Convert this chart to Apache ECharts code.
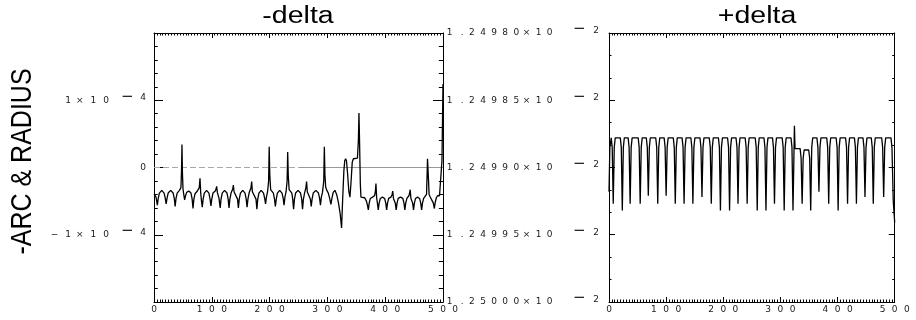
<!DOCTYPE html>
<html>
<head>
<meta charset="utf-8">
<style>
  html, body { margin: 0; padding: 0; background: #fff; }
  #chart { width: 916px; height: 320px; }
</style>
<script src="https://cdn.jsdelivr.net/npm/echarts@6/dist/echarts.min.js"></script>
</head>
<body>
<div id="chart"></div>
<script>
// Panel titles and the shared vertical axis name
const panelTitles = ['-delta', '+delta'];
const sideName = '-ARC & RADIUS';

// -delta: [step, value in units of 1e-4]
const minusDelta = [
  [0,-0.39],[3.5,-0.44],[5.8,-0.56],[7.3,-0.46],[9.3,-0.38],[13.4,-0.34],[17.5,-0.38],[19.5,-0.46],[21,-0.54],
  [22.5,-0.46],[24.5,-0.38],[28.8,-0.34],[33.1,-0.38],[35.1,-0.46],[36.6,-0.58],
  [38.1,-0.46],[40.1,-0.38],[44,-0.34],[46.6,-0.30],[47.6,-0.05],[48.4,0.34],[49.2,-0.08],[50.2,-0.32],[51.8,-0.42],[53,-0.48],
  [54.5,-0.42],[56.5,-0.37],[60.2,-0.35],[64,-0.38],[66,-0.47],[67.5,-0.61],
  [69,-0.47],[71,-0.39],[75,-0.35],[78.3,-0.30],[79.6,-0.16],[80.8,-0.38],[82.2,-0.50],[83.5,-0.59],
  [85,-0.47],[87,-0.38],[91,-0.34],[95,-0.38],[97,-0.47],[98.5,-0.57],
  [100,-0.47],[102,-0.38],[106,-0.35],[107.4,-0.32],[108.4,-0.28],[109.6,-0.37],[112.5,-0.46],[114.5,-0.60],
  [116,-0.47],[118,-0.38],[122,-0.34],[126.3,-0.38],[128.3,-0.47],[129.8,-0.60],
  [131.3,-0.47],[133.3,-0.38],[136.2,-0.32],[137.3,-0.26],[138.5,-0.36],[141,-0.37],[144.5,-0.47],[146,-0.60],
  [147.5,-0.47],[149.5,-0.38],[153.5,-0.34],[157.5,-0.38],[159.5,-0.47],[161,-0.59],
  [162.5,-0.47],[164.5,-0.38],[167.8,-0.30],[169,-0.21],[170.2,-0.36],[173,-0.37],[176.5,-0.47],[178,-0.62],
  [179.5,-0.47],[181.5,-0.38],[185.5,-0.34],[189.5,-0.38],[191.5,-0.46],[193,-0.54],
  [194.5,-0.44],[196.5,-0.36],[198.3,-0.20],[199.3,0.31],[200.3,-0.10],[201.8,-0.33],[204,-0.35],[206.5,-0.38],[208.5,-0.47],[210,-0.58],
  [211.5,-0.47],[213.5,-0.38],[217.5,-0.34],[221.5,-0.38],[223.5,-0.46],[225,-0.56],
  [226.5,-0.44],[228.5,-0.36],[230.3,-0.20],[231.3,0.23],[232.3,-0.12],[233.8,-0.33],[236,-0.35],[238.5,-0.38],[240,-0.47],[241.5,-0.62],
  [243,-0.47],[245,-0.38],[249.2,-0.34],[253.5,-0.38],[255.5,-0.47],[257,-0.62],
  [258.5,-0.47],[260.5,-0.38],[262.8,-0.30],[264,-0.21],[265.2,-0.36],[268,-0.37],[270.5,-0.47],[272,-0.58],
  [273.5,-0.47],[275.5,-0.38],[280,-0.34],[284.5,-0.38],[286.5,-0.46],[288,-0.56],
  [289.5,-0.44],[291.5,-0.37],[293.7,-0.20],[294.7,0.31],[295.7,-0.10],[297,-0.29],[299,-0.34],[301.5,-0.38],[304,-0.46],[306,-0.55],
  [308,-0.45],[310,-0.37],[313,-0.34],[316,-0.40],[319,-0.52],[322,-0.68],[324.5,-0.90],[326.5,-0.45],[328.5,-0.05],[330,0.10],
  [331.5,0.13],[333,0.10],[335,-0.10],[337,-0.35],[339,-0.44],[341,-0.20],[343,0.08],[345,0.13],[348,0.13],[352,0.14],
  [353.6,0.40],[354.6,0.81],[355.6,0.40],[357,-0.25],[358,-0.44],
  [361,-0.44],[364.5,-0.45],[367.5,-0.50],[369.3,-0.56],[370.8,-0.63],[372.3,-0.53],[374.3,-0.46],[378,-0.44],[381.5,-0.42],[383,-0.36],[384,-0.24],[385.2,-0.45],[386.7,-0.54],[388,-0.63],
  [389.5,-0.53],[391.5,-0.46],[395.3,-0.44],[399,-0.46],[401,-0.53],[402.5,-0.63],
  [404,-0.53],[406,-0.46],[410,-0.44],[412,-0.40],[413,-0.35],[414.3,-0.46],[417.5,-0.53],[419,-0.63],
  [420.5,-0.53],[422.5,-0.46],[426.5,-0.44],[430.5,-0.46],[432.5,-0.53],[434,-0.63],
  [435.5,-0.53],[437.5,-0.46],[441,-0.42],[442.2,-0.38],[443.2,-0.33],[444.5,-0.46],[447.5,-0.53],[449,-0.63],
  [450.5,-0.53],[452.5,-0.46],[456,-0.44],[459.5,-0.46],[461.5,-0.53],[463,-0.63],
  [464.5,-0.53],[466.5,-0.46],[469.5,-0.44],[471.5,-0.40],[472.5,-0.10],[473.2,0.13],[474.2,-0.05],[476,-0.40],[477.5,-0.43],[480.5,-0.45],[483.3,-0.53],[485,-0.61],
  [486.5,-0.52],[488.5,-0.45],[490.5,-0.42],[494,-0.42],[496.5,-0.40],[498.2,0.10],[500,1.24]
];

// +delta: [step, value in units of 1e-2]
const plusDelta = [
  [0,1.249918],[1.5,1.249885],[3.9,1.249878],[5.6,1.249885],[7.4,1.249927],[9.2,1.249885],[10.9,1.249878],
  [19.8,1.249878],[21.5,1.249885],[23.3,1.249932],[25.1,1.249885],[26.8,1.249878],
  [33.5,1.249878],[35.2,1.249885],[37,1.249927],[38.8,1.249885],[40.5,1.249878],
  [51.1,1.249878],[52.8,1.249885],[54.6,1.249927],[56.4,1.249885],[58.1,1.249878],
  [65.3,1.249878],[67,1.249885],[68.8,1.249921],[70.6,1.249885],[72.3,1.249878],
  [81.8,1.249878],[83.5,1.249885],[85.3,1.249927],[87.1,1.249885],[88.8,1.249878],
  [96.5,1.249878],[98.2,1.249885],[100,1.249921],[101.8,1.249885],[103.5,1.249878],
  [112.5,1.249878],[114.2,1.249885],[116,1.249927],[117.8,1.249885],[119.5,1.249878],
  [127.9,1.249878],[129.6,1.249885],[131.4,1.249927],[133.2,1.249885],[134.9,1.249878],
  [143.3,1.249878],[145,1.249885],[146.8,1.249927],[148.6,1.249885],[150.3,1.249878],
  [159.2,1.249878],[160.9,1.249885],[162.7,1.249922],[164.5,1.249885],[166.2,1.249878],
  [175.5,1.249878],[177.2,1.249885],[179,1.249927],[180.8,1.249885],[182.5,1.249878],
  [191.5,1.249878],[193.2,1.249885],[195,1.249932],[196.8,1.249885],[198.5,1.249878],
  [207.5,1.249878],[209.2,1.249885],[211,1.249932],[212.8,1.249885],[214.5,1.249878],
  [222.3,1.249878],[224,1.249885],[225.8,1.249927],[227.6,1.249885],[229.3,1.249878],
  [238.3,1.249878],[240,1.249885],[241.8,1.249927],[243.6,1.249885],[245.3,1.249878],
  [255.9,1.249878],[257.6,1.249885],[259.4,1.249932],[261.2,1.249885],[262.9,1.249878],
  [271.2,1.249878],[272.9,1.249885],[274.7,1.249932],[276.5,1.249885],[278.2,1.249878],
  [286.1,1.249878],[287.8,1.249885],[289.6,1.249927],[291.4,1.249885],[293.1,1.249878],
  [303.1,1.249878],[304.8,1.249885],[306.6,1.249932],[308.4,1.249885],[310.1,1.249878],
  [318.5,1.249878],[320.2,1.249885],[322,1.249932],[323.3,1.2499],[324.5,1.249869],[325.6,1.249886],
  [334.5,1.249886],[336.2,1.249893],[338,1.249927],[339.8,1.249893],[341.5,1.249887],
  [349.5,1.249887],[351.2,1.249893],[353,1.249932],[354.8,1.249885],[356.5,1.249878],
  [363.9,1.249878],[365.6,1.249885],[367.4,1.249918],[369.2,1.249885],[370.9,1.249878],
  [381,1.249878],[382.7,1.249885],[384.5,1.249927],[386.3,1.249885],[388,1.249878],
  [397.5,1.249878],[399.2,1.249885],[401,1.249932],[402.8,1.249885],[404.5,1.249878],
  [414,1.249878],[415.7,1.249885],[417.5,1.249927],[419.3,1.249885],[421,1.249878],
  [429.5,1.249878],[431.2,1.249885],[433,1.249927],[434.8,1.249885],[436.5,1.249878],
  [444.5,1.249878],[446.2,1.249885],[448,1.249922],[449.8,1.249885],[451.5,1.249878],
  [459,1.249878],[460.7,1.249885],[462.5,1.249927],[464.3,1.249885],[466,1.249878],
  [477.2,1.249878],[478.9,1.249885],[480.7,1.249922],[482.5,1.249885],[484.2,1.249878],
  [493.5,1.249878],[495.2,1.249885],[497.5,1.249925],[500,1.249941]
];

// Zero reference line of the -delta panel (dashed part, then solid part)
const zeroDashed = [[0, 0], [250, 0]];
const zeroSolid = [[250, 0], [500, 0]];

// Axis ranges and tick spacing
const stepRange = [0, 500], stepInterval = 100;
const minusRange = [-2, 2], minusInterval = 1;          // x 1e-4
const plusRange = [1.2498, 1.25], plusInterval = 0.00005; // x 1e-2

// Tick-label text, one boxed glyph per character
const spread = (s, st) => Array.from(s).map(ch => '{' + st + '|' + ch + '}').join('');
const base = { fontFamily: 'DejaVu Sans', fontSize: 9, color: '#1a1a1a', lineHeight: 12 };

const stepLabel = {
  margin: 3,
  formatter: v => spread(String(Math.round(v)), 'c'),
  rich: { c: Object.assign({}, base, { width: 12.2, lineHeight: 9 }) }
};

const minusLabel = {
  margin: 8,
  showMinLabel: true, showMaxLabel: true,
  formatter: v => {
    const n = Math.round(v);
    if (n === 0) return '{z|0}';
    if (Math.abs(n) !== 1) return '';
    return (n < 0 ? '{n|−}' : '') + spread('1×10', 'c') + '{m|−}{e|4}';
  },
  rich: {
    c: Object.assign({}, base, { width: 12.7 }),
    n: Object.assign({}, base, { width: 18 }),
    z: Object.assign({}, base, { width: 6 }),
    m: Object.assign({}, base, { fontSize: 15, width: 13, padding: [0, 0, 7, 11.5] }),
    e: Object.assign({}, base, { width: 8, padding: [0, 0, 5, 4.5] })
  }
};

const plusLabel = {
  margin: 10,
  showMinLabel: true, showMaxLabel: true,
  formatter: v => spread(v.toFixed(5) + '×10', 'c') + '{m|−}{e|2}',
  rich: {
    c: Object.assign({}, base, { width: 11.1 }),
    m: Object.assign({}, base, { fontSize: 15, width: 13, padding: [0, 0, 7, 20] }),
    e: Object.assign({}, base, { width: 8, padding: [0, 0, 5, 5.5] })
  }
};

const black = { color: '#000', width: 1 };

function stepAxis(grid, pos, withLabels) {
  return {
    type: 'value', gridIndex: grid, position: pos,
    min: stepRange[0], max: stepRange[1], interval: stepInterval,
    axisLine: { show: true, onZero: false, lineStyle: black },
    axisTick: { show: true, inside: true, length: 5, lineStyle: black },
    minorTick: { show: true, splitNumber: 20, length: 2.5, lineStyle: black },
    splitLine: { show: false },
    axisLabel: withLabels ? stepLabel : { show: false }
  };
}

function valueAxis(grid, pos, range, interval, inverse, tickLen, minorSplit, label) {
  return {
    type: 'value', gridIndex: grid, position: pos, inverse: inverse,
    min: range[0], max: range[1], interval: interval,
    axisLine: { show: true, onZero: false, lineStyle: black },
    axisTick: { show: true, inside: true, length: tickLen, lineStyle: black },
    minorTick: { show: true, splitNumber: minorSplit, length: tickLen / 2.4, lineStyle: black },
    splitLine: { show: false },
    axisLabel: label || { show: false }
  };
}

const titleStyle = { fontFamily: 'Liberation Sans', fontSize: 23, fill: '#000', align: 'center', verticalAlign: 'middle' };

const option = {
  animation: false,
  backgroundColor: '#fff',
  grid: [
    { left: 154, top: 33, width: 289, height: 269 },
    { left: 609, top: 33, width: 293, height: 269 }
  ],
  xAxis: [
    stepAxis(0, 'bottom', true),
    stepAxis(0, 'top', false),
    stepAxis(1, 'bottom', true),
    stepAxis(1, 'top', false)
  ],
  yAxis: [
    valueAxis(0, 'left', minusRange, minusInterval, false, 9, 5, minusLabel),
    valueAxis(0, 'right', minusRange, minusInterval, false, 10, 5, null),
    valueAxis(1, 'left', plusRange, plusInterval, true, 6, 3, plusLabel),
    valueAxis(1, 'right', plusRange, plusInterval, true, 6, 3, null)
  ],
  series: [
    {
      type: 'line', xAxisIndex: 0, yAxisIndex: 0, data: zeroDashed,
      symbol: 'none', silent: true,
      lineStyle: { color: '#a8a8a8', width: 1, type: [6, 3] }
    },
    {
      type: 'line', xAxisIndex: 0, yAxisIndex: 0, data: zeroSolid,
      symbol: 'none', silent: true,
      lineStyle: { color: '#999', width: 1 }
    },
    {
      name: panelTitles[0], type: 'line', xAxisIndex: 0, yAxisIndex: 0, data: minusDelta,
      symbol: 'none', silent: true,
      lineStyle: { color: '#000', width: 1.3 }
    },
    {
      name: panelTitles[1], type: 'line', xAxisIndex: 2, yAxisIndex: 2, data: plusDelta,
      symbol: 'none', silent: true,
      lineStyle: { color: '#000', width: 1.3 }
    }
  ],
  graphic: [
    { type: 'text', x: 298, y: 17, scaleX: 1.24, style: Object.assign({ text: panelTitles[0] }, titleStyle) },
    { type: 'text', x: 757, y: 17, scaleX: 1.24, style: Object.assign({ text: panelTitles[1] }, titleStyle) },
    {
      type: 'text', x: 22.5, y: 161.5, rotation: Math.PI / 2, scaleY: 1.17,
      style: { text: sideName, fontFamily: 'Liberation Sans', fontSize: 25, fill: '#000', align: 'center', verticalAlign: 'middle' }
    }
  ]
};

const chart = echarts.init(document.getElementById('chart'), null, { renderer: 'canvas' });
chart.setOption(option);
</script>
</body>
</html>
